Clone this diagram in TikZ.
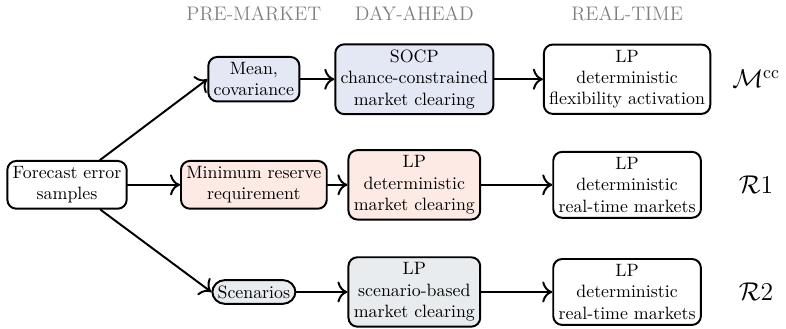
\documentclass[tikz,border=0pt]{standalone}
\usepackage{amsmath}
\usetikzlibrary{arrows.meta}
\definecolor{ccblue}{HTML}{E3E8F4}
\definecolor{rpink}{HTML}{FDEAE5}
\definecolor{rgray}{HTML}{E9ECEF}
\begin{document}
\begin{tikzpicture}[>={To[scale=1.4]}, line join=round, line cap=round,
	box/.style={draw, line width=1.1pt, rounded corners=5pt, align=center, inner sep=3pt},
	phase/.style={text=black!50, font=\fontsize{11}{13}\selectfont},
	model/.style={font=\Large}]
	\def\xa{1.32} \def\xb{5.00} \def\xc{8.16} \def\xd{12.35} \def\xe{14.89} % columns
	\def\ya{-1.56} \def\yb{-3.64} \def\yc{-5.75} % rows
	\useasboundingbox (0,0) rectangle (15.48,-6.46);
	\node[phase] (pre) at (\xb,-0.26) {PRE-MARKET};
	\node[phase] (da) at (\xc,-0.26) {DAY-AHEAD};
	\node[phase] (rt) at (\xd,-0.26) {REAL-TIME};
	\node[box] (fes) at (\xa,\yb) {Forecast error\\samples};
	\node[box, fill=ccblue] (mean) at (\xb,\ya) {Mean,\\covariance};
	\node[box, fill=rpink] (mrr) at (\xb,\yb) {Minimum reserve\\requirement};
	\node[box, fill=rgray, rounded corners=7pt] (scen) at (\xb,\yc) {Scenarios};
	\node[box, fill=ccblue] (socp) at (\xc,\ya) {SOCP\\chance-constrained\\market clearing};
	\node[box, fill=rpink] (dam1) at (\xc,\yb) {LP\\deterministic\\market clearing};
	\node[box, fill=rgray] (dam2) at (\xc,\yc) {LP\\scenario-based\\market clearing};
	\node[box] (flex) at (\xd,\ya) {LP\\deterministic\\flexibility activation};
	\node[box] (rt1) at (\xd,\yb) {LP\\deterministic\\real-time markets};
	\node[box] (rt2) at (\xd,\yc) {LP\\deterministic\\real-time markets};
	\node[model] (mcc) at (\xe,\ya) {$\mathcal{M}^{\text{cc}}$};
	\node[model] (r1) at (\xe,\yb) {$\mathcal{R}1$};
	\node[model] (r2) at (\xe,\yc) {$\mathcal{R}2$};
	\foreach \s/\t in {fes/mean.west, fes/mrr, fes/scen.west, mean/socp, mrr/dam1, scen/dam2, socp/flex, dam1/rt1, dam2/rt2}
	\draw[->, line width=1.1pt] (\s) -- (\t);
\end{tikzpicture}
\end{document}
